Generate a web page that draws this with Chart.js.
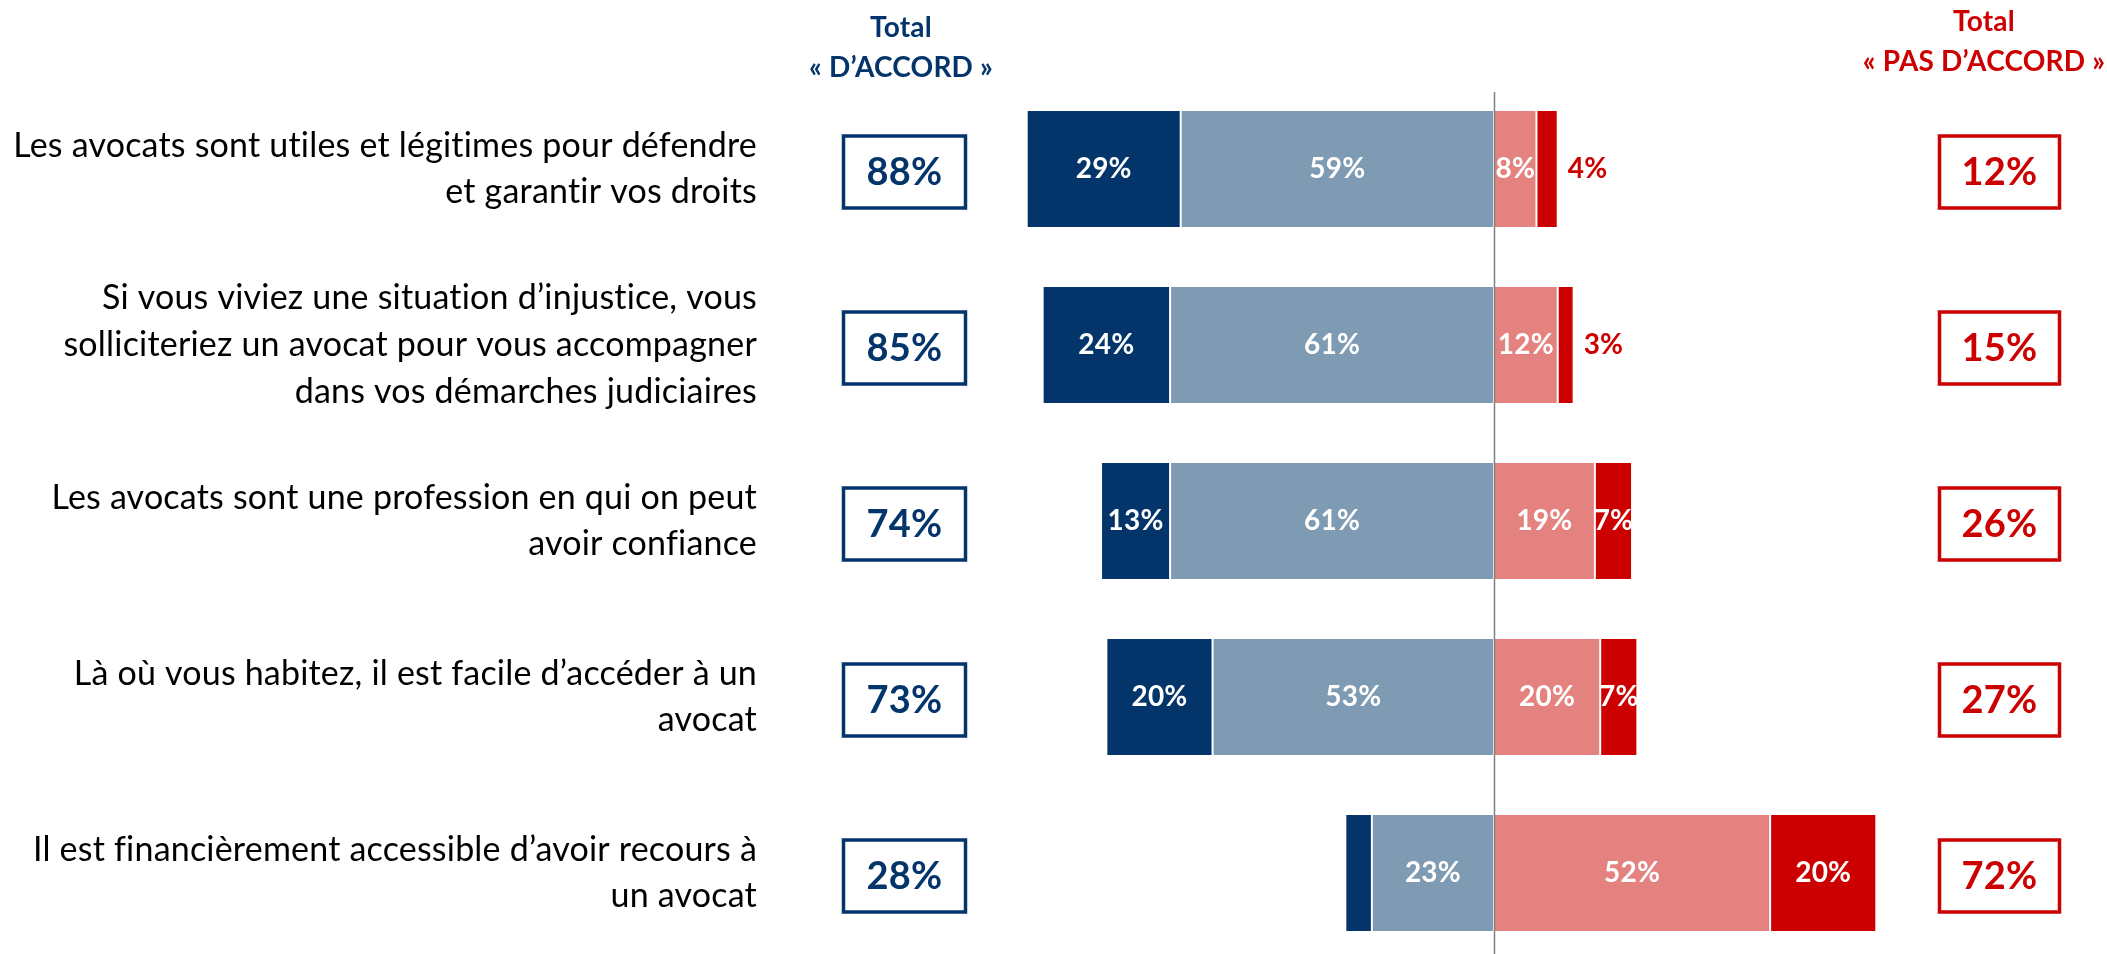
<!DOCTYPE html>
<html><head><meta charset="utf-8">
<script src="https://cdn.jsdelivr.net/npm/chart.js@4.4.1/dist/chart.umd.min.js"></script>
<style>html,body{margin:0;padding:0;overflow:hidden;background:#fff}</style>
</head><body>
<canvas id="c" width="2107" height="962" style="display:block;width:2107px;height:962px"></canvas>
<script>
const categories = [
  ["Les avocats sont utiles et légitimes pour défendre", "et garantir vos droits"],
  ["Si vous viviez une situation d’injustice, vous", "solliciteriez un avocat pour vous accompagner", "dans vos démarches judiciaires"],
  ["Les avocats sont une profession en qui on peut", "avoir confiance"],
  ["Là où vous habitez, il est facile d’accéder à un", "avocat"],
  ["Il est financièrement accessible d’avoir recours à", "un avocat"]
];
const toutAFaitDAccord = [29, 24, 13, 20, 5];
const plutotDAccord = [59, 61, 61, 53, 23];
const plutotPasDAccord = [8, 12, 19, 20, 52];
const pasDuToutDAccord = [4, 3, 7, 7, 20];
const headerAccord = ["Total", "« D’ACCORD »"];
const headerPasAccord = ["Total", "« PAS D’ACCORD »"];

const NAVY = '#03356A', STEEL = '#7F9AB3', PINK = '#E48280', RED = '#CC0000';
const FONT = 'Lato';

const totalAccord = toutAFaitDAccord.map((v, i) => v + plutotDAccord[i]);
const totalPasAccord = plutotPasDAccord.map((v, i) => v + pasDuToutDAccord[i]);

const noLigaturePlugin = {
  id: 'noLigature',
  beforeDraw(chart) { try { chart.ctx.letterSpacing = '0.2px'; } catch (e) {} }
};

const centerLinePlugin = {
  id: 'centerLine',
  afterDatasetsDraw(chart) {
    const ctx = chart.ctx, x = Math.round(chart.scales.x.getPixelForValue(0)) + 0.5;
    ctx.save();
    ctx.strokeStyle = '#7F7F7F'; ctx.lineWidth = 1.5;
    ctx.beginPath(); ctx.moveTo(x, 92); ctx.lineTo(x, chart.height); ctx.stroke();
    ctx.restore();
  }
};

const labelPlugin = {
  id: 'barLabels',
  afterDatasetsDraw(chart) {
    const ctx = chart.ctx;
    ctx.save();
    ctx.font = 'bold 28px ' + FONT;
    ctx.textBaseline = 'middle';
    ctx.textAlign = 'center';
    chart.data.datasets.forEach((ds, di) => {
      const meta = chart.getDatasetMeta(di);
      meta.data.forEach((el, i) => {
        const p = el.getProps(['x', 'y', 'base'], true);
        const w = Math.abs(p.x - p.base);
        const txt = Math.abs(ds.data[i]) + '%';
        if (w < 30) {
          if (ds.outer) {
            ctx.fillStyle = RED;
            ctx.textAlign = 'left';
            ctx.fillText(txt, Math.max(p.x, p.base) + 10, p.y);
            ctx.textAlign = 'center';
          }
          return;
        }
        ctx.fillStyle = '#fff';
        ctx.fillText(txt, (p.x + p.base) / 2, p.y);
      });
    });
    ctx.restore();
  }
};

const boxesPlugin = {
  id: 'boxes',
  afterDraw(chart) {
    const ctx = chart.ctx, ys = chart.scales.y;
    ctx.save();
    ctx.textAlign = 'center'; ctx.textBaseline = 'middle';
    ctx.font = 'bold 28px ' + FONT;
    ctx.fillStyle = NAVY;
    ctx.fillText(headerAccord[0], 901, 28);
    ctx.fillText(headerAccord[1], 901, 68);
    ctx.fillStyle = RED;
    ctx.fillText(headerPasAccord[0], 1984, 22);
    ctx.fillText(headerPasAccord[1], 1984, 62);
    ctx.lineWidth = 3.5;
    ctx.font = 'bold 38px ' + FONT;
    categories.forEach((c, i) => {
      const y = ys.getPixelForValue(i) + 3;
      ctx.strokeStyle = NAVY; ctx.fillStyle = NAVY;
      ctx.strokeRect(904.5 - 61, y - 36, 122, 72);
      ctx.fillText(totalAccord[i] + '%', 904.5, y + 1);
      ctx.strokeStyle = RED; ctx.fillStyle = RED;
      ctx.strokeRect(1999.5 - 60, y - 36, 120, 72);
      ctx.fillText(totalPasAccord[i] + '%', 1999.5, y + 1);
    });
    ctx.restore();
  }
};

function draw() {
  const seg = { borderColor: '#fff', borderWidth: { left: 1, right: 1, top: 0, bottom: 0 }, borderSkipped: false };
  new Chart(document.getElementById('c'), {
    type: 'bar',
    data: {
      labels: categories,
      datasets: [
        Object.assign({ label: 'Plutôt d’accord', data: plutotDAccord.map(v => -v), backgroundColor: STEEL }, seg),
        Object.assign({ label: 'Tout à fait d’accord', data: toutAFaitDAccord.map(v => -v), backgroundColor: NAVY }, seg),
        Object.assign({ label: 'Plutôt pas d’accord', data: plutotPasDAccord, backgroundColor: PINK }, seg),
        Object.assign({ label: 'Pas du tout d’accord', data: pasDuToutDAccord, backgroundColor: RED, outer: true }, seg)
      ]
    },
    options: {
      indexAxis: 'y',
      responsive: false,
      animation: false,
      layout: { padding: { top: 81, bottom: 1, right: 82, left: 0 } },
      plugins: { legend: { display: false }, tooltip: { enabled: false } },
      datasets: { bar: { barPercentage: 0.66, categoryPercentage: 1 } },
      scales: {
        x: { stacked: true, min: -100, max: 100, display: false },
        y: {
          stacked: true,
          grid: { display: false, drawTicks: false },
          border: { display: false },
          ticks: { padding: 206, color: '#000', font: { family: FONT, size: 34, lineHeight: 1.37 } },
          afterFit(scale) { scale.width = 963; scale.paddingTop = 0; scale.paddingBottom = 0; }
        }
      }
    },
    plugins: [noLigaturePlugin, centerLinePlugin, labelPlugin, boxesPlugin]
  });
}

Promise.all([
  document.fonts.load('30px Lato'),
  document.fonts.load('bold 30px Lato')
]).then(draw, draw);
</script>
</body></html>
